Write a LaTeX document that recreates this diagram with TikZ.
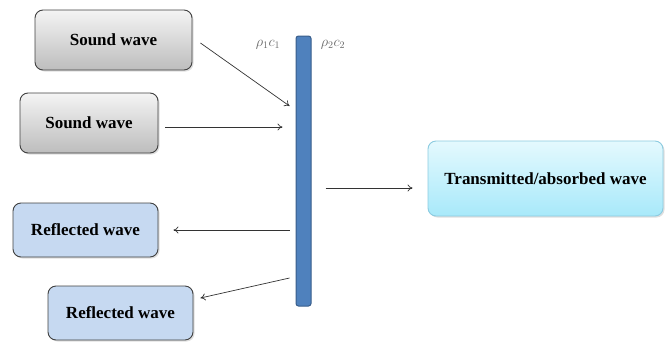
\documentclass[tikz,border=0pt]{standalone}
\usepackage{fontspec}
\setmainfont{Liberation Serif}
\usetikzlibrary{arrows.meta,calc,shadows}
\definecolor{boxline}{HTML}{404040}
\definecolor{greytop}{HTML}{F4F4F4}
\definecolor{greybot}{HTML}{BDBDBD}
\definecolor{reflfill}{HTML}{C6D9F1}
\definecolor{transtop}{HTML}{E4F9FE}
\definecolor{transbot}{HTML}{A8E9FA}
\definecolor{transline}{HTML}{8CCBE0}
\definecolor{barfill}{HTML}{4F81BD}
\definecolor{barline}{HTML}{385D8A}
\definecolor{arrline}{HTML}{333333}
\tikzset{
  wavebox/.style={draw=boxline, line width=0.9pt, rounded corners=8pt, font=\bfseries\fontsize{17}{19}\selectfont,
    drop shadow={shadow xshift=1.5pt, shadow yshift=-1.5pt, opacity=0.25}},
  soundbox/.style={wavebox, top color=greytop, bottom color=greybot},
  reflbox/.style={wavebox, fill=reflfill},
  transbox/.style={wavebox, draw=transline, top color=transtop, bottom color=transbot},
  arr/.style={draw=arrline, line width=0.7pt, -{To[length=5pt,width=7pt]}},
  medium/.style={text=gray!80!black, font=\fontsize{14}{15}\selectfont}
}
\begin{document}
\begin{tikzpicture}[x=1pt,y=-1pt]
\useasboundingbox (0,0) rectangle (670,341);
% incident waves
\node[soundbox, minimum width=157pt, minimum height=60pt] (s1) at (113.5,40) {Sound wave};
\node[soundbox, minimum width=138pt, minimum height=60pt] (s2) at (89,123) {Sound wave};
% reflected waves
\node[reflbox, minimum width=145pt, minimum height=54pt] (r1) at (85.5,230) {Reflected wave};
\node[reflbox, minimum width=145pt, minimum height=54pt] (r2) at (120.5,313) {Reflected wave};
% transmitted wave
\node[transbox, minimum width=235pt, minimum height=75pt] (t) at (545.5,178.5) {Transmitted/absorbed wave};
% interface between the two media
\node[draw=barline, line width=1pt, fill=barfill, rounded corners=2.5pt, minimum width=15pt, minimum height=270pt, inner sep=0pt] (bar) at (303.5,171) {};
\node[medium] (m1) at (268,45) {$\rho_1 c_1$};
\node[medium] (m2) at (333,45) {$\rho_2 c_2$};
% connectors
\draw[arr] ($(s1.east)+(8,3)$) -- ($(bar.west)+(-6,-65)$);
\draw[arr] ($(s2.east)+(7,4)$) -- ($(bar.west)+(-13,-44)$);
\draw[arr] ($(bar.west)+(-6,59)$) -- ($(r1.east)+(15,0)$);
\draw[arr] ($(bar.west)+(-6,107)$) -- ($(r2.east)+(7,-15)$);
\draw[arr] ($(bar.east)+(14,17)$) -- ($(t.west)+(-15,9.5)$);
\end{tikzpicture}
\end{document}
